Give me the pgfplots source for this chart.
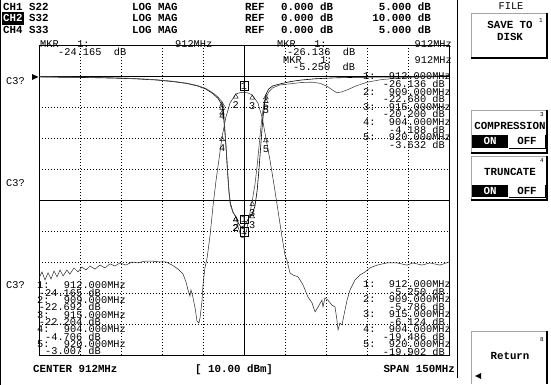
\documentclass[border=0pt]{standalone}
\usepackage{pgfplots}
\pgfplotsset{compat=1.18}
\usepackage{fontspec}
\setmainfont{Liberation Mono}
\newcommand\hdrf{\fontsize{10.8}{12}\selectfont\bfseries}
\newcommand\mkf{\fontsize{10.3}{11}\selectfont}
\tikzset{
 hd/.style={anchor=west,inner sep=0pt,font=\hdrf,text height=6.5pt,text depth=0pt},
 hde/.style={hd,anchor=east},
 hdc/.style={hd,anchor=center},
 mk/.style={anchor=west,inner sep=0pt,font=\mkf,text height=6pt,text depth=0pt},
 mke/.style={mk,anchor=east},
 mkc/.style={mk,anchor=center}
}
\pgfplotsset{
 trimark/.style={only marks, mark=triangle, mark size=2.8pt,
   mark options={yshift=-2.8pt, black, line width=0.4pt, fill=none},
   nodes near coords, point meta=explicit symbolic,
   every node near coord/.append style={anchor=north, inner sep=0pt, yshift=-5pt, font=\mkf, text=black}},
 boxmark/.style={only marks, mark=none,
   nodes near coords, point meta=explicit symbolic,
   every node near coord/.append style={anchor=south, draw=black, line width=0.5pt, inner sep=1pt, yshift=2pt, font=\mkf, text=black}}
}
\begin{document}
\begin{tikzpicture}
\path[use as bounding box] (0,0) rectangle (551pt,385pt);
% ---------- CH2 S32 : 10 dB/div, ref 0 dB at division 9 ----------
\begin{axis}[at={(39pt,30pt)}, anchor=south west, width=410pt, height=310pt, scale only axis,
  xmin=837, xmax=987, ymin=-90, ymax=10,
  xtick={852,867,...,972}, ytick={-80,-70,...,0},
  xticklabels={}, yticklabels={}, major tick length=0pt,
  grid=major, major grid style={black, line width=0.5pt, dash pattern=on 1pt off 2pt},
  extra x ticks={912}, extra y ticks={0,-40}, extra x tick labels={}, extra y tick labels={},
  extra tick style={major grid style={solid, black, line width=0.6pt}},
  axis line style={black, line width=0.8pt}]
\addplot[black!85, line width=0.5pt] coordinates {
(837.0,-65.2) (838.1,-63.2) (839.2,-65.8) (840.3,-63.5) (841.4,-65.5) (842.5,-62.9) (843.6,-64.8)
(844.7,-62.6) (845.8,-64.5) (847.2,-62.6) (848.3,-63.9) (849.8,-61.9) (851.3,-63.2) (852.7,-61.6)
(854.2,-62.6) (855.7,-61.3) (857.5,-62.3) (859.3,-61.0) (861.1,-61.9) (863.0,-60.6) (864.8,-61.3)
(866.6,-60.3) (868.8,-61.0) (871.0,-60.0) (873.2,-60.3) (875.8,-59.7) (878.3,-59.7) (881.3,-60.0)
(883.5,-60.0) (885.7,-61.0) (887.9,-62.3) (889.7,-63.9) (890.8,-66.5) (891.5,-69.0) (892.2,-71.0)
(892.6,-69.0) (893.3,-71.3) (894.1,-74.8) (894.8,-79.0) (895.5,-79.7) (895.9,-78.1) (896.6,-72.9)
(897.0,-67.4) (897.7,-61.9) (898.5,-58.7) (899.6,-51.3) (900.7,-41.6) (901.8,-33.5) (902.9,-26.5)
(904.0,-19.486) (905.4,-13.2) (906.9,-8.7) (909.0,-5.786) (910.5,-5.4) (912.0,-5.250) (913.5,-5.5)
(915.0,-6.124) (917.1,-8.7) (918.6,-13.2) (920.0,-19.902) (921.5,-27.1) (923.0,-35.2) (924.4,-43.2)
(925.9,-51.9) (927.0,-57.7) (927.7,-59.4) (928.8,-63.5) (929.9,-64.2) (931.8,-64.8) (933.6,-67.4)
(935.4,-71.3) (936.9,-73.2) (938.0,-76.1) (939.1,-74.5) (940.5,-72.3) (940.9,-74.5) (941.6,-71.6)
(942.7,-72.3) (944.2,-73.9) (945.3,-74.5) (946.0,-78.7) (946.4,-81.9) (947.1,-79.7) (947.9,-80.3)
(948.2,-78.7) (949.7,-72.3) (950.8,-69.0) (952.6,-65.8) (954.4,-64.2) (956.3,-63.2) (958.1,-61.9)
(960.7,-61.0) (964.3,-60.3) (968.0,-60.3) (971.6,-61.0) (973.8,-60.3) (977.1,-61.0) (980.0,-60.3)
(983.7,-61.0) (987.0,-60.0)};
\addplot[trimark] coordinates {(909,-5.786)[2] (915,-6.124)[3] (904,-19.486)[4] (920,-19.902)[5]};
\addplot[boxmark] coordinates {(912,-5.250)[1]};
\end{axis}
% ---------- CH1 S22 / CH4 S33 : 5 dB/div ----------
\begin{axis}[at={(39pt,30pt)}, anchor=south west, width=410pt, height=310pt, scale only axis,
  xmin=837, xmax=987, ymin=-45, ymax=5, hide axis]
\addplot[black, line width=0.6pt] coordinates {
(837,-0.15) (845,-0.2) (855,-0.25) (865,-0.35) (872,-0.45) (880,-0.65) (886,-0.9) (891,-1.2)
(895,-1.6) (898,-2.1) (900.5,-2.8) (902.5,-3.6) (904,-4.706) (904.5,-6.5) (905,-9.0) (905.5,-12.0)
(906,-15.5) (906.5,-18.5) (907,-20.5) (908,-22.0) (909,-22.692) (910,-23.8) (911,-24.4) (912,-24.165)
(913,-23.5) (914,-22.7) (915,-22.204) (916,-21.0) (916.8,-18.5) (917.4,-15.5) (918,-12.0) (918.5,-9.0)
(919,-6.5) (919.5,-4.6) (920,-3.007) (921,-2.1) (922.5,-1.6) (925,-1.3) (929,-0.9) (933,-0.65)
(938,-0.45) (945,-0.3) (955,-0.2) (970,-0.15) (987,-0.1)};
\addplot[black!70, line width=0.6pt] coordinates {
(837,-0.1) (845,-0.15) (855,-0.2) (865,-0.3) (872,-0.4) (880,-0.6) (886,-0.85) (891,-1.15)
(895,-1.55) (898,-2.0) (900.5,-2.7) (902.5,-3.4) (904,-4.188) (904.5,-5.8) (905,-8.5) (905.5,-11.8)
(906,-15.5) (906.5,-18.8) (907,-20.8) (908,-22.0) (909,-22.680) (910,-24.6) (911,-26.0) (912,-26.136)
(913,-24.8) (914,-22.5) (915,-20.200) (916,-17.5) (916.8,-14.5) (917.4,-11.8) (918,-9.0) (918.5,-7.0)
(919,-5.3) (919.5,-4.3) (920,-3.632) (921,-2.6) (922.5,-1.9) (925,-1.45) (929,-1.25) (933,-1.05)
(937,-1.0) (940,-1.2) (942.5,-1.7) (944.5,-2.3) (946,-2.7) (947.5,-2.6) (950,-2.2) (953,-1.6)
(957,-1.0) (962,-0.6) (968,-0.35) (975,-0.15) (981,-0.05) (987,0.1)};
\addplot[trimark] coordinates {(909,-22.692)[2] (915,-22.204)[3] (904,-4.706)[4] (920,-3.007)[5]};
\addplot[trimark] coordinates {(909,-22.680)[2] (915,-20.200)[3] (904,-4.188)[4] (920,-3.632)[5]};
\addplot[boxmark] coordinates {(912,-24.165)[1] (912,-26.136)[1]};
\end{axis}
% ---------- screen text (pixel coordinates, y downwards) ----------
\begin{scope}[x=1pt,y=-1pt,shift={(0pt,385pt)}]
\draw[line width=0.8pt] (0.5,0) -- (0.5,385);
\draw[line width=0.8pt] (457.5,0) -- (457.5,378);
% header
\node[hd] at (3,7) {CH1}; \node[hd] at (29,7) {S22};
\fill (2,12.5) rectangle (23.5,25);
\node[hd,text=white] at (3,18.7) {CH2}; \node[hd] at (29,18.7) {S32};
\node[hd] at (3,30.4) {CH4}; \node[hd] at (29,30.4) {S33};
\foreach \yy/\dd in {7/5.000 dB/, 18.7/10.000 dB/, 30.4/5.000 dB/}{
  \node[hd] at (132,\yy) {LOG MAG};
  \node[hd] at (245,\yy) {REF};
  \node[hd] at (281,\yy) {0.000 dB};
  \node[hde] at (431,\yy) {\dd};
}
% C3? labels
\node[mk] at (6,82) {C3?};
\node[mk] at (6,184) {C3?};
\node[mk] at (6,286) {C3?};
% reference arrow
\fill (32,74) -- (38.5,77) -- (32,80) -- cycle;
% marker readouts
\node[mk] at (40,45) {MKR\ \ \ 1:}; \node[mk] at (175,45) {912MHz};
\node[mk] at (58,52.6) {-24.165\ \ dB};
\node[mk] at (277,45) {MKR\ \ \ 1:}; \node[mke] at (452,45) {912MHz};
\node[mk] at (287,52.6) {-26.136\ \ dB};
\node[mk] at (283,60.2) {MKR\ \ \ 1:}; \node[mke] at (452,60.2) {912MHz};
\node[mk] at (293,67.8) {-5.250\ \ dB};
% marker lists
\foreach \n/\f/\d [count=\i from 0] in {1/912/-26.136, 2/909/-22.680, 3/915/-20.200, 4/904/-4.188, 5/920/-3.632}{
  \node[mk] at (363,{77+15.2*\i}) {\n:};
  \node[mke] at (451,{77+15.2*\i}) {\f.000MHz};
  \node[mke] at (445,{84.6+15.2*\i}) {\d\ dB};
}
\foreach \n/\f/\d [count=\i from 0] in {1/912/-24.165, 2/909/-22.692, 3/915/-22.204, 4/904/-4.706, 5/920/-3.007}{
  \node[mk] at (37,{286+14.6*\i}) {\n:};
  \node[mke] at (126,{286+14.6*\i}) {\f.000MHz};
  \node[mke] at (101,{293.3+14.6*\i}) {\d\ dB};
}
\foreach \n/\f/\d [count=\i from 0] in {1/912/-5.250, 2/909/-5.786, 3/915/-6.124, 4/904/-19.486, 5/920/-19.902}{
  \node[mk] at (363,{285+14.9*\i}) {\n:};
  \node[mke] at (451,{285+14.9*\i}) {\f.000MHz};
  \node[mke] at (445,{292.45+14.9*\i}) {\d\ dB};
}
% bottom line
\node[hd] at (33,369) {CENTER 912MHz};
\node[hd] at (195,369) {[ 10.00 dBm]};
\node[hde] at (455,369) {SPAN 150MHz};
% softkeys
\node[mkc] at (511,7) {FILE};
\draw[black!35, line width=0.6pt] (471,58) -- (471,13) -- (547,13);
\draw[line width=1.2pt] (547,13) -- (547,58) -- (471,58);
\node[hdc] at (510,25) {SAVE TO};
\node[hdc] at (510,37) {DISK};
\node[mkc,font=\fontsize{6}{6}\selectfont] at (541,20) {1};
\draw[black!35, line width=0.6pt] (471,153) -- (471,110) -- (547,110);
\draw[line width=1.2pt] (547,110) -- (547,153) -- (471,153);
\node[mkc,font=\fontsize{6}{6}\selectfont] at (542,114) {3};
\node[hdc] at (510,126) {COMPRESSION};
\fill (472,135) rectangle (508,148);
\node[hdc,text=white] at (490,141.5) {ON};
\node[hdc] at (527,141.5) {OFF};
\draw[line width=0.8pt] (545,135) -- (545,148) -- (509,148);
\draw[black!35, line width=0.6pt] (471,200) -- (471,156) -- (547,156);
\draw[line width=1.2pt] (547,156) -- (547,200) -- (471,200);
\node[mkc,font=\fontsize{6}{6}\selectfont] at (542,160) {4};
\node[hdc] at (510,172) {TRUNCATE};
\fill (472,185) rectangle (508,197.5);
\node[hdc,text=white] at (490,191) {ON};
\node[hdc] at (527,191) {OFF};
\draw[line width=0.8pt] (545,185) -- (545,197.5) -- (509,197.5);
\draw[black!35, line width=0.6pt] (471,384) -- (471,331) -- (547,331);
\draw[line width=1.2pt] (547,331) -- (547,384);
\node[mkc,font=\fontsize{6}{6}\selectfont] at (542,339) {8};
\node[hdc] at (510,356) {Return};
\fill (475,376) -- (481,373) -- (481,379) -- cycle;
\end{scope}
\end{tikzpicture}
\end{document}
